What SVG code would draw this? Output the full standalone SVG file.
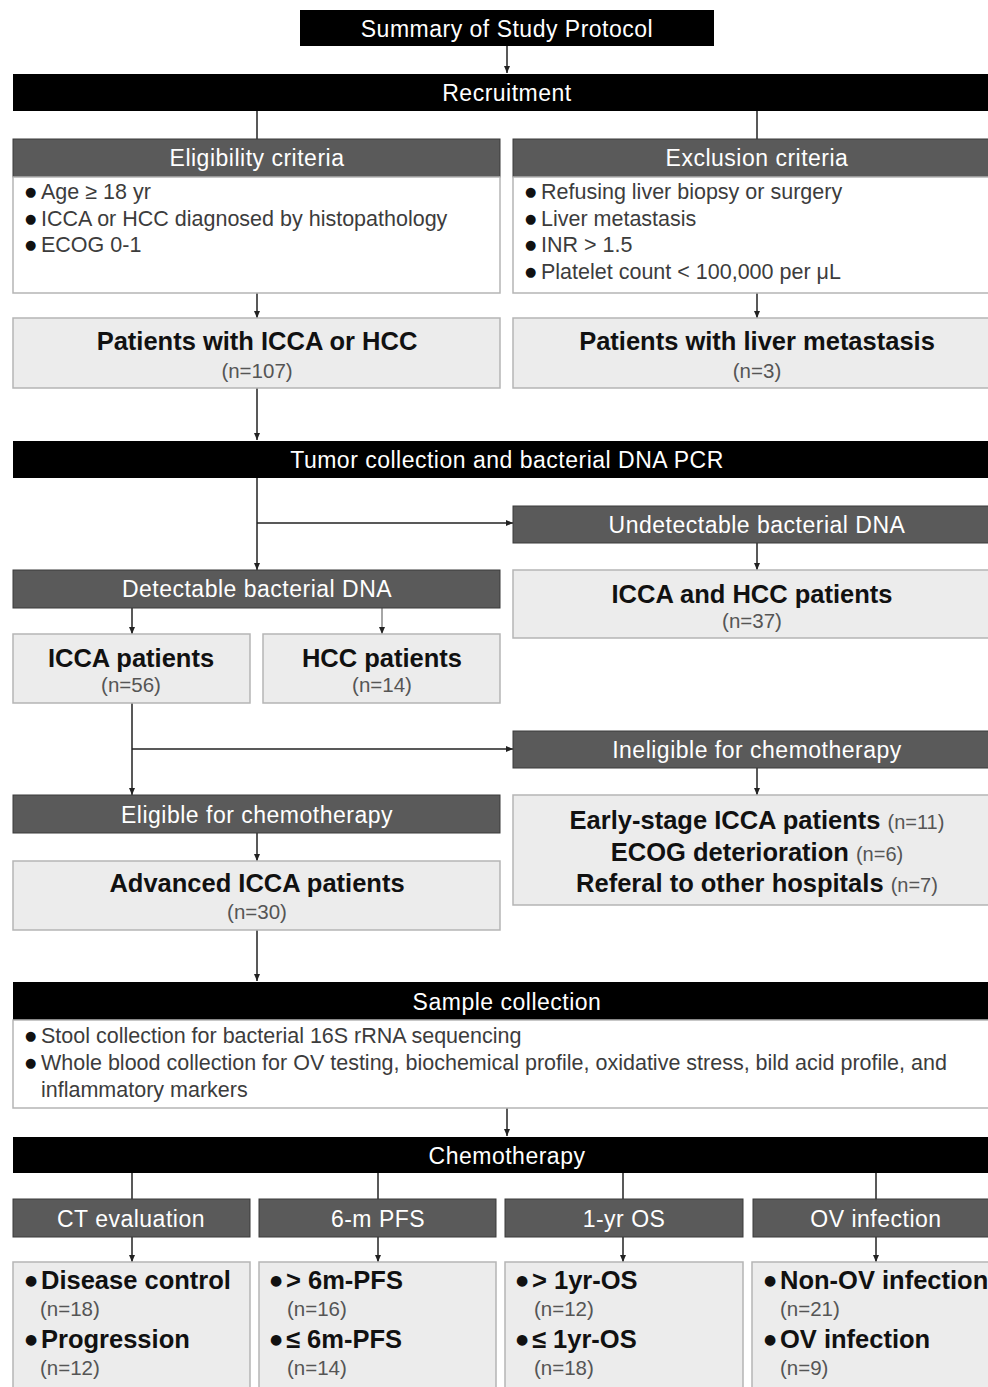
<svg xmlns="http://www.w3.org/2000/svg" width="988" height="1387" viewBox="0 0 988 1387">
<defs>
<marker id="ah" markerWidth="8" markerHeight="8" refX="7" refY="4" orient="auto" markerUnits="userSpaceOnUse">
<path d="M0,1 L7,4 L0,7 Z" fill="#222"/>
</marker>
<style>
text{font-family:"Liberation Sans",Arial,Helvetica,sans-serif}
.blk{fill:#000}
.hdr{fill:#5a5a5a;stroke:#3a3a3a;stroke-width:1}
.body{fill:#fff;stroke:#b5b5b5;stroke-width:1.5}
.box{fill:#ececec;stroke:#b5b5b5;stroke-width:1.5}
.wt{fill:#fff;font-size:23px;letter-spacing:0.5px;text-anchor:middle}
.bt{fill:#3c3c3c;font-size:21.5px}
.dot{fill:#111;font-size:13px;font-family:"DejaVu Sans",sans-serif}
.dotb{fill:#111;font-size:14px;font-family:"DejaVu Sans",sans-serif}
.tb{fill:#111;font-size:25.5px;font-weight:bold;text-anchor:middle}
.n{fill:#555;font-size:20.5px;text-anchor:middle}
.ns{fill:#555;font-size:20px;font-weight:normal}
.bb{fill:#111;font-size:25.5px;font-weight:bold}
.nl{fill:#555;font-size:20.5px}
.ln{stroke:#222;stroke-width:1.5;fill:none}
</style>
</defs>

<g id="connectors">
<line class="ln" x1="507" y1="46" x2="507" y2="73" marker-end="url(#ah)"/>
<line class="ln" x1="257" y1="111" x2="257" y2="139"/>
<line class="ln" x1="757" y1="111" x2="757" y2="139"/>
<line class="ln" x1="257" y1="293" x2="257" y2="318" marker-end="url(#ah)"/>
<line class="ln" x1="757" y1="293" x2="757" y2="318" marker-end="url(#ah)"/>
<line class="ln" x1="257" y1="388" x2="257" y2="440" marker-end="url(#ah)"/>
<line class="ln" x1="257" y1="478" x2="257" y2="570" marker-end="url(#ah)"/>
<line class="ln" x1="257" y1="523" x2="513" y2="523" marker-end="url(#ah)"/>
<line class="ln" x1="757" y1="543" x2="757" y2="570" marker-end="url(#ah)"/>
<line class="ln" x1="132" y1="608" x2="132" y2="634" marker-end="url(#ah)"/>
<line x1="382" y1="608" x2="382" y2="634" stroke="#888" stroke-width="1.5" marker-end="url(#ah)"/>
<line class="ln" x1="132" y1="703" x2="132" y2="795" marker-end="url(#ah)"/>
<line class="ln" x1="132" y1="749" x2="513" y2="749" marker-end="url(#ah)"/>
<line class="ln" x1="757" y1="768" x2="757" y2="795" marker-end="url(#ah)"/>
<line class="ln" x1="257" y1="833" x2="257" y2="861" marker-end="url(#ah)"/>
<line class="ln" x1="257" y1="930" x2="257" y2="981" marker-end="url(#ah)"/>
<line class="ln" x1="507" y1="1108" x2="507" y2="1136" marker-end="url(#ah)"/>
<line class="ln" x1="132" y1="1173" x2="132" y2="1199"/>
<line class="ln" x1="378" y1="1173" x2="378" y2="1199"/>
<line class="ln" x1="623" y1="1173" x2="623" y2="1199"/>
<line class="ln" x1="876" y1="1173" x2="876" y2="1199"/>
<line class="ln" x1="132" y1="1237" x2="132" y2="1262" marker-end="url(#ah)"/>
<line class="ln" x1="378" y1="1237" x2="378" y2="1262" marker-end="url(#ah)"/>
<line class="ln" x1="623" y1="1237" x2="623" y2="1262" marker-end="url(#ah)"/>
<line class="ln" x1="876" y1="1237" x2="876" y2="1262" marker-end="url(#ah)"/>
</g>

<g id="title">
<rect class="blk" x="300" y="10" width="414" height="36"/>
<text class="wt" x="507" y="37">Summary of Study Protocol</text>
</g>

<g id="recruitment">
<rect class="blk" x="13" y="74" width="980" height="37"/>
<text class="wt" x="507" y="101">Recruitment</text>
</g>

<g id="eligibility">
<rect class="hdr" x="13" y="139" width="487" height="38"/>
<text class="wt" x="257" y="166">Eligibility criteria</text>
<rect class="body" x="13" y="177" width="487" height="116"/>
<text class="bt" x="25" y="199"><tspan class="dot" dy="-3">●</tspan><tspan x="41" dy="3">Age ≥ 18 yr</tspan></text>
<text class="bt" x="25" y="226"><tspan class="dot" dy="-3">●</tspan><tspan x="41" dy="3">ICCA or HCC diagnosed by histopathology</tspan></text>
<text class="bt" x="25" y="252"><tspan class="dot" dy="-3">●</tspan><tspan x="41" dy="3">ECOG 0-1</tspan></text>
</g>

<g id="exclusion">
<rect class="hdr" x="513" y="139" width="480" height="38"/>
<text class="wt" x="757" y="166">Exclusion criteria</text>
<rect class="body" x="513" y="177" width="480" height="116"/>
<text class="bt" x="525" y="199"><tspan class="dot" dy="-3">●</tspan><tspan x="541" dy="3">Refusing liver biopsy or surgery</tspan></text>
<text class="bt" x="525" y="226"><tspan class="dot" dy="-3">●</tspan><tspan x="541" dy="3">Liver metastasis</tspan></text>
<text class="bt" x="525" y="252"><tspan class="dot" dy="-3">●</tspan><tspan x="541" dy="3">INR &gt; 1.5</tspan></text>
<text class="bt" x="525" y="279"><tspan class="dot" dy="-3">●</tspan><tspan x="541" dy="3">Platelet count &lt; 100,000 per μL</tspan></text>
</g>

<g id="patients-icca-hcc">
<rect class="box" x="13" y="318" width="487" height="70"/>
<text class="tb" x="257" y="350">Patients with ICCA or HCC</text>
<text class="n" x="257" y="378">(n=107)</text>
</g>

<g id="patients-metastasis">
<rect class="box" x="513" y="318" width="480" height="70"/>
<text class="tb" x="757" y="350">Patients with liver metastasis</text>
<text class="n" x="757" y="378">(n=3)</text>
</g>

<g id="tumor-collection">
<rect class="blk" x="13" y="441" width="980" height="37"/>
<text class="wt" x="507" y="468">Tumor collection and bacterial DNA PCR</text>
</g>

<g id="undetectable">
<rect class="hdr" x="513" y="506" width="480" height="37"/>
<text class="wt" x="757" y="533">Undetectable bacterial DNA</text>
</g>

<g id="icca-hcc-patients">
<rect class="box" x="513" y="570" width="480" height="68"/>
<text class="tb" x="752" y="603">ICCA and HCC patients</text>
<text class="n" x="752" y="628">(n=37)</text>
</g>

<g id="detectable">
<rect class="hdr" x="13" y="570" width="487" height="38"/>
<text class="wt" x="257" y="597">Detectable bacterial DNA</text>
</g>

<g id="icca-patients">
<rect class="box" x="13" y="634" width="237" height="69"/>
<text class="tb" x="131" y="667">ICCA patients</text>
<text class="n" x="131" y="692">(n=56)</text>
</g>

<g id="hcc-patients">
<rect class="box" x="263" y="634" width="237" height="69"/>
<text class="tb" x="382" y="667">HCC patients</text>
<text class="n" x="382" y="692">(n=14)</text>
</g>

<g id="ineligible">
<rect class="hdr" x="513" y="731" width="480" height="37"/>
<text class="wt" x="757" y="758">Ineligible for chemotherapy</text>
</g>

<g id="ineligible-details">
<rect class="box" x="513" y="795" width="480" height="110"/>
<text class="tb" x="757" y="829">Early-stage ICCA patients <tspan class="ns">(n=11)</tspan></text>
<text class="tb" x="757" y="861">ECOG deterioration <tspan class="ns">(n=6)</tspan></text>
<text class="tb" x="757" y="892">Referal to other hospitals <tspan class="ns">(n=7)</tspan></text>
</g>

<g id="eligible">
<rect class="hdr" x="13" y="795" width="487" height="38"/>
<text class="wt" x="257" y="823">Eligible for chemotherapy</text>
</g>

<g id="advanced-icca">
<rect class="box" x="13" y="861" width="487" height="69"/>
<text class="tb" x="257" y="892">Advanced ICCA patients</text>
<text class="n" x="257" y="919">(n=30)</text>
</g>

<g id="sample-collection">
<rect class="blk" x="13" y="982" width="980" height="38"/>
<text class="wt" x="507" y="1010">Sample collection</text>
<rect class="body" x="13" y="1020" width="980" height="88"/>
<text class="bt" x="25" y="1043"><tspan class="dot" dy="-3">●</tspan><tspan x="41" dy="3">Stool collection for bacterial 16S rRNA sequencing</tspan></text>
<text class="bt" x="25" y="1070"><tspan class="dot" dy="-3">●</tspan><tspan x="41" dy="3">Whole blood collection for OV testing, biochemical profile, oxidative stress, bild acid profile, and</tspan></text>
<text class="bt" x="41" y="1097">inflammatory markers</text>
</g>

<g id="chemotherapy">
<rect class="blk" x="13" y="1137" width="980" height="36"/>
<text class="wt" x="507" y="1164">Chemotherapy</text>
</g>

<g id="ct-evaluation">
<rect class="hdr" x="13" y="1199" width="237" height="38"/>
<text class="wt" x="131" y="1227">CT evaluation</text>
<rect class="box" x="13" y="1262" width="237" height="130"/>
<text class="bb" x="25" y="1289"><tspan class="dotb" dy="-4">●</tspan><tspan x="41" dy="4">Disease control</tspan></text>
<text class="nl" x="40" y="1316">(n=18)</text>
<text class="bb" x="25" y="1348"><tspan class="dotb" dy="-4">●</tspan><tspan x="41" dy="4">Progression</tspan></text>
<text class="nl" x="40" y="1375">(n=12)</text>
</g>

<g id="pfs">
<rect class="hdr" x="259" y="1199" width="237" height="38"/>
<text class="wt" x="378" y="1227">6-m PFS</text>
<rect class="box" x="259" y="1262" width="237" height="130"/>
<text class="bb" x="270" y="1289"><tspan class="dotb" dy="-4">●</tspan><tspan x="286" dy="4">&gt; 6m-PFS</tspan></text>
<text class="nl" x="287" y="1316">(n=16)</text>
<text class="bb" x="270" y="1348"><tspan class="dotb" dy="-4">●</tspan><tspan x="286" dy="4">≤ 6m-PFS</tspan></text>
<text class="nl" x="287" y="1375">(n=14)</text>
</g>

<g id="os">
<rect class="hdr" x="505" y="1199" width="238" height="38"/>
<text class="wt" x="624" y="1227">1-yr OS</text>
<rect class="box" x="505" y="1262" width="238" height="130"/>
<text class="bb" x="516" y="1289"><tspan class="dotb" dy="-4">●</tspan><tspan x="532" dy="4">&gt; 1yr-OS</tspan></text>
<text class="nl" x="534" y="1316">(n=12)</text>
<text class="bb" x="516" y="1348"><tspan class="dotb" dy="-4">●</tspan><tspan x="532" dy="4">≤ 1yr-OS</tspan></text>
<text class="nl" x="534" y="1375">(n=18)</text>
</g>

<g id="ov-infection">
<rect class="hdr" x="753" y="1199" width="240" height="38"/>
<text class="wt" x="876" y="1227">OV infection</text>
<rect class="box" x="752" y="1262" width="241" height="130"/>
<text class="bb" x="764" y="1289"><tspan class="dotb" dy="-4">●</tspan><tspan x="780" dy="4">Non-OV infection</tspan></text>
<text class="nl" x="780" y="1316">(n=21)</text>
<text class="bb" x="764" y="1348"><tspan class="dotb" dy="-4">●</tspan><tspan x="780" dy="4">OV infection</tspan></text>
<text class="nl" x="780" y="1375">(n=9)</text>
</g>
</svg>
